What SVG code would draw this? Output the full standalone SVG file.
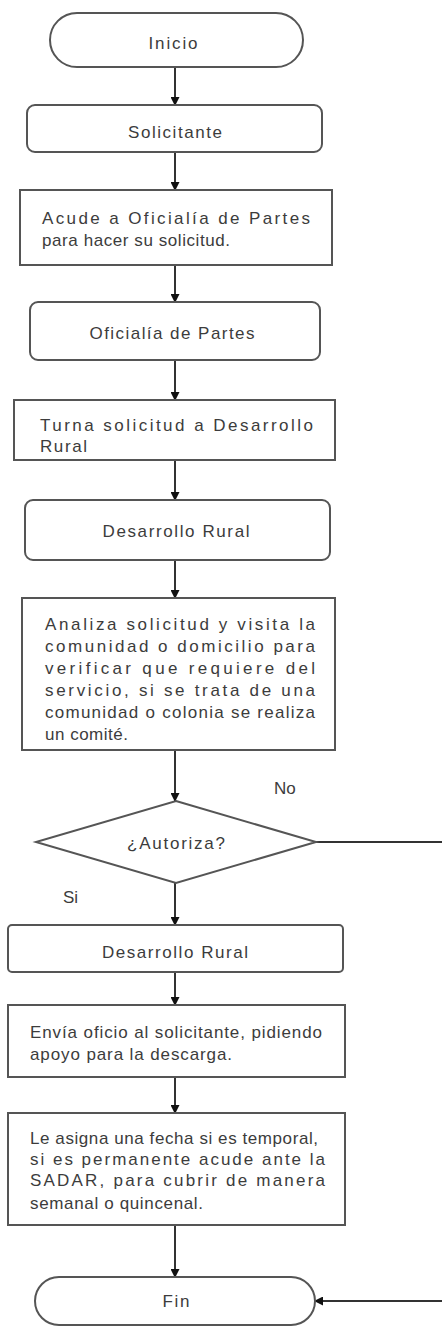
<svg xmlns="http://www.w3.org/2000/svg" width="442" height="1326" viewBox="0 0 442 1326">
<defs>
<marker id="ah" markerUnits="userSpaceOnUse" markerWidth="9" markerHeight="9" refX="8" refY="4.5" orient="auto">
<path d="M0,0 L9,4.5 L0,9 z" fill="#111"/>
</marker>
<style>
.box{fill:#fff;stroke:#555;stroke-width:2}
.t{font-family:"Liberation Sans",Arial,sans-serif;font-size:17px;fill:#3c3c3c}
.c{text-anchor:middle}
.con{fill:none;stroke:#333;stroke-width:2}
</style>
</defs>
<rect width="442" height="1326" fill="#fff"/>
<g id="connectors">
<line class="con" x1="175" y1="67" x2="175" y2="105" marker-end="url(#ah)"/>
<line class="con" x1="175" y1="152" x2="175" y2="190" marker-end="url(#ah)"/>
<line class="con" x1="175" y1="265" x2="175" y2="302" marker-end="url(#ah)"/>
<line class="con" x1="175" y1="360" x2="175" y2="400" marker-end="url(#ah)"/>
<line class="con" x1="175" y1="460" x2="175" y2="500" marker-end="url(#ah)"/>
<line class="con" x1="175" y1="560" x2="175" y2="598" marker-end="url(#ah)"/>
<line class="con" x1="175" y1="750" x2="175" y2="801" marker-end="url(#ah)"/>
<line class="con" x1="175" y1="883" x2="175" y2="925" marker-end="url(#ah)"/>
<line class="con" x1="175" y1="972" x2="175" y2="1005" marker-end="url(#ah)"/>
<line class="con" x1="175" y1="1077" x2="175" y2="1113" marker-end="url(#ah)"/>
<line class="con" x1="175" y1="1225" x2="175" y2="1277" marker-end="url(#ah)"/>
<path class="con" d="M315,842 H444 V1301 H315" marker-end="url(#ah)"/>
<text class="t" x="274" y="794">No</text>
<text class="t" x="63" y="903">Si</text>
</g>
<g id="inicio">
<rect class="box" x="50" y="13" width="253" height="54" rx="27"/>
<text class="t c" x="173" y="49" textLength="49">Inicio</text>
</g>
<g id="solicitante">
<rect class="box" x="27" y="105" width="295" height="47" rx="8"/>
<text class="t c" x="175" y="138" textLength="94">Solicitante</text>
</g>
<g id="acude">
<rect class="box" x="20" y="190" width="312" height="75"/>
<text class="t" x="42" y="224" textLength="268">Acude a Oficialía de Partes</text>
<text class="t" x="42" y="246" textLength="188">para hacer su solicitud.</text>
</g>
<g id="oficialia">
<rect class="box" x="30" y="302" width="290" height="58" rx="8"/>
<text class="t c" x="172" y="339" textLength="165">Oficialía de Partes</text>
</g>
<g id="turna">
<rect class="box" x="14" y="400" width="321" height="60"/>
<text class="t" x="40" y="431" textLength="273">Turna solicitud a Desarrollo</text>
<text class="t" x="40" y="452" textLength="47">Rural</text>
</g>
<g id="desarrollo1">
<rect class="box" x="25" y="500" width="305" height="60" rx="8"/>
<text class="t c" x="176" y="537" textLength="147">Desarrollo Rural</text>
</g>
<g id="analiza">
<rect class="box" x="22" y="598" width="313" height="152"/>
<text class="t" x="45" y="630" textLength="270">Analiza solicitud y visita la</text>
<text class="t" x="45" y="652" textLength="270">comunidad o domicilio para</text>
<text class="t" x="45" y="674" textLength="270">verificar que requiere del</text>
<text class="t" x="45" y="696" textLength="270">servicio, si se trata de una</text>
<text class="t" x="45" y="718" textLength="270">comunidad o colonia se realiza</text>
<text class="t" x="45" y="740" textLength="83">un comité.</text>
</g>
<g id="decision">
<polygon class="box" points="176,801 316,842 176,883 36,842"/>
<text class="t c" x="176" y="849" textLength="98">¿Autoriza?</text>
</g>
<g id="desarrollo2">
<rect class="box" x="8" y="925" width="335" height="47" rx="4"/>
<text class="t c" x="175" y="958" textLength="146">Desarrollo Rural</text>
</g>
<g id="envia">
<rect class="box" x="8" y="1005" width="337" height="72"/>
<text class="t" x="30" y="1038" textLength="292">Envía oficio al solicitante, pidiendo</text>
<text class="t" x="30" y="1060" textLength="202">apoyo para la descarga.</text>
</g>
<g id="asigna">
<rect class="box" x="8" y="1113" width="337" height="112"/>
<text class="t" x="30" y="1144" textLength="288">Le asigna una fecha si es temporal,</text>
<text class="t" x="30" y="1165" textLength="295">si es permanente acude ante la</text>
<text class="t" x="30" y="1186" textLength="295">SADAR, para cubrir de manera</text>
<text class="t" x="30" y="1209" textLength="173">semanal o quincenal.</text>
</g>
<g id="fin">
<rect class="box" x="35" y="1277" width="280" height="48" rx="24"/>
<text class="t c" x="176" y="1307" textLength="27">Fin</text>
</g>
</svg>
